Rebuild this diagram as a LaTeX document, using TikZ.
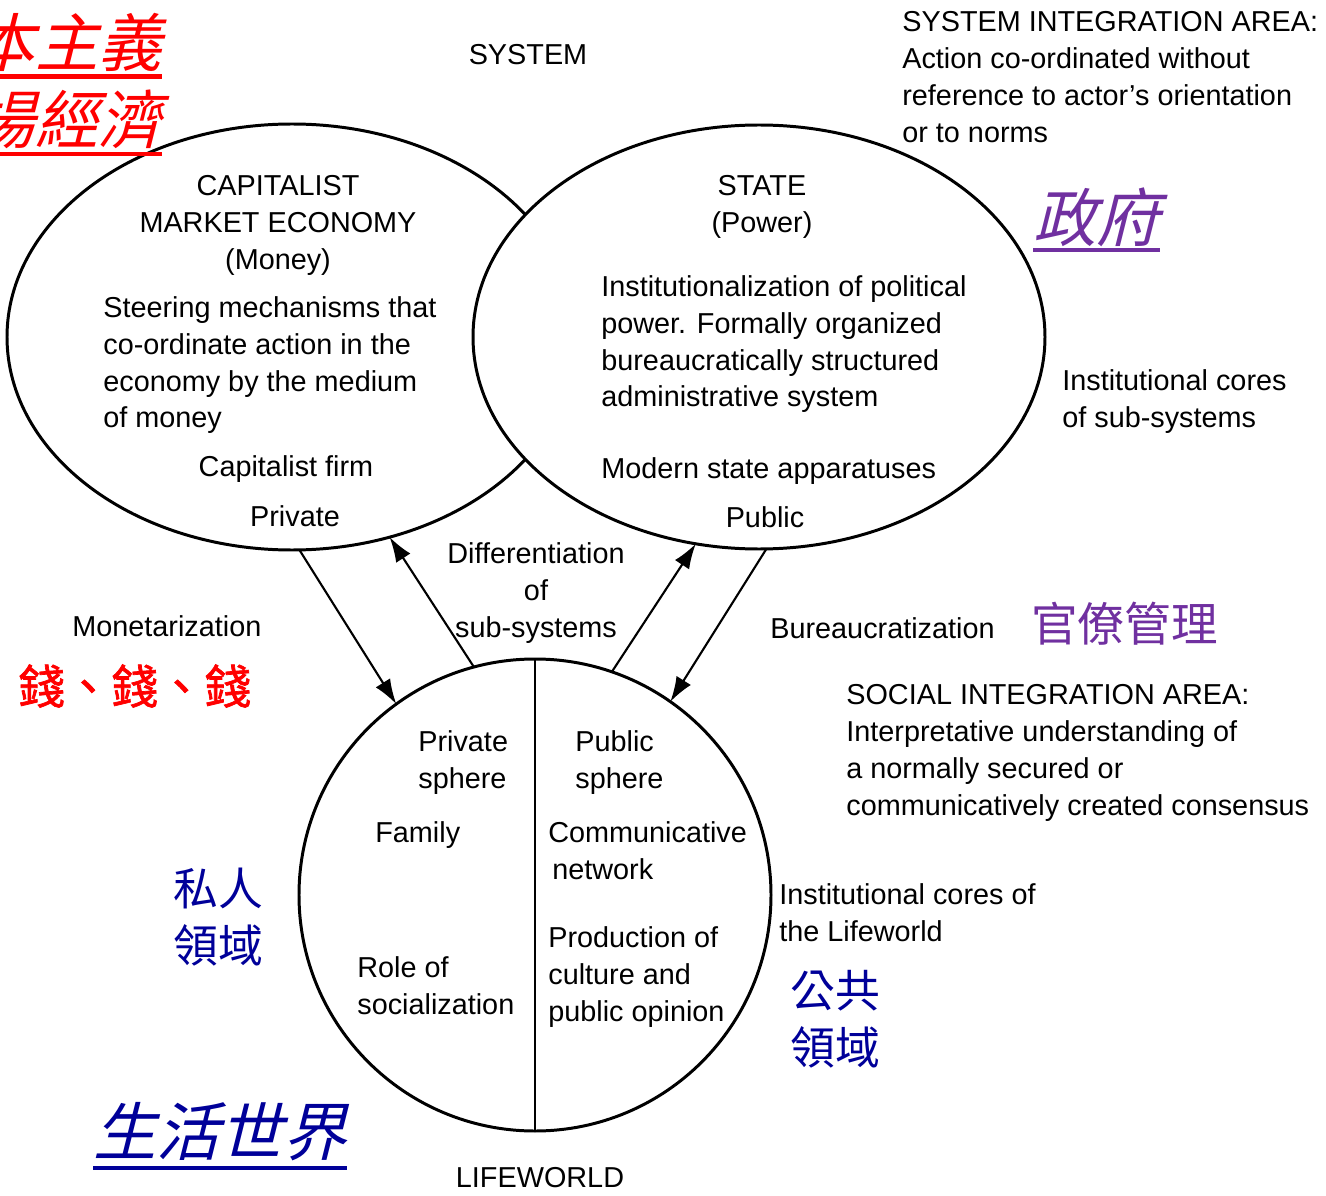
\documentclass[tikz,border=0pt]{standalone}
\usepackage{fontspec}
\setmainfont{Liberation Sans}
\newfontfamily\cjk{Noto Sans CJK TC}
\newfontfamily\cjkit[FakeSlant=0.25]{Noto Sans CJK TC}
\newfontfamily\cjkbf[FakeBold=1.5]{Noto Sans CJK TC}
\usepackage{xcolor}
\usepackage{tikz}
\usetikzlibrary{calc,arrows.meta,shapes.geometric}
\definecolor{redcn}{HTML}{FF0000}
\definecolor{purplecn}{HTML}{7030A0}
\definecolor{bluecn}{HTML}{000099}
\newcommand\pxu{0.02cm}
\tikzset{
  ring/.style={draw=black, line width=1.7pt, inner sep=0pt, outer sep=0pt},
  flow/.style={draw=black, line width=1.2pt, -{Latex[length=0.5cm,width=0.34cm]}},
  lab/.style={font=\fontsize{16.4}{21}\selectfont, inner sep=0pt, align=left, anchor=north west},
  labc/.style={lab, align=center, anchor=north},
  cn/.style={inner sep=0pt, anchor=west, align=left},
  cnbig/.style={cn, font=\cjkit\fontsize{36}{40}\selectfont},
  cnmid/.style={cn, font=\cjk\fontsize{25.5}{32.5}\selectfont},
  ul/.style={line width=2.3pt},
}
\begin{document}
\begin{tikzpicture}[x=0.02cm,y=-0.02cm]
  \useasboundingbox (0,0) rectangle (1326,1196);
  % the three spheres
  \node[ring, ellipse, minimum width=570*\pxu, minimum height=426*\pxu] (econ) at (292,337) {};
  \node[ring, ellipse, fill=white, minimum width=572*\pxu, minimum height=424*\pxu] (state) at (759,337) {};
  \node[ring, circle, minimum size=472*\pxu] (life) at (535,895) {};
  \draw[line width=1.3pt] (life.north) -- (life.south);

  \node[labc] (sys) at (528,44) {SYSTEM};
  \node[labc] (econt) at (278,175) {CAPITALIST\\MARKET ECONOMY\\(Money)};
  \node[lab] (steer) at (103,296) {Steering mechanisms that\\co-ordinate action in the\\economy by the medium\\of money};
  \node[labc] (firm) at (286,455) {Capitalist firm};
  \node[labc] (priv) at (295,505) {Private};
  \node[labc] (statet) at (762,175) {STATE\\(Power)};
  \node[lab] (inst) at (601,275) {Institutionalization of political\\power. Formally organized\\bureaucratically structured\\administrative system};
  \node[lab] (appar) at (601,457) {Modern state apparatuses};
  \node[labc] (pub) at (765,506) {Public};
  \node[lab] (cores) at (1062,369) {Institutional cores\\of sub-systems};
  \node[labc] (diff) at (536,542) {Differentiation\\of\\sub-systems};
  \node[lab] (monet) at (72,615) {Monetarization};
  \node[lab] (bur) at (770,617) {Bureaucratization};
  \node[lab] (sysint) at (902,11) {SYSTEM INTEGRATION AREA:\\Action co-ordinated without\\reference to actor's orientation\\or to norms};
  \node[lab] (socint) at (846,684) {SOCIAL INTEGRATION AREA:\\Interpretative understanding of\\a normally secured or\\communicatively created consensus};
  \node[lab] (privs) at (418,730) {Private\\sphere};
  \node[lab] (pubs) at (575,730) {Public\\sphere};
  \node[lab] (fam) at (375,821) {Family};
  \node[lab] (comm) at (548,821) {Communicative\\\hspace*{0.08cm}network};
  \node[lab] (role) at (357,956) {Role of\\socialization};
  \node[lab] (prod) at (548,926) {Production of\\culture and\\public opinion};
  \node[lab] (lwcores) at (779,883) {Institutional cores of\\the Lifeworld};
  \node[labc] (lwt) at (540,1167) {LIFEWORLD};

  \draw[flow] (econ.-88) -- (life.126);
  \draw[flow] (life.105) -- (econ.-64);
  \draw[flow] (life.71) -- (state.-107);
  \draw[flow] (state.-88) -- (life.55);

  % Chinese notes
  \node[cnbig, text=redcn, anchor=east] (capcn) at (162,42) {本主義};
  \node[cnbig, text=redcn, anchor=east] (mktcn) at (162,119) {場經濟};
  \node[cnbig, text=purplecn] (govcn) at (1033,217) {政府};
  \node[cnbig, text=bluecn] (lifecn) at (93,1132) {生活世界};
  \draw[ul, redcn] ($(capcn.south west)+(0,5)$) -- ($(capcn.south east)+(0,5)$);
  \draw[ul, redcn] ($(mktcn.south west)+(0,5)$) -- ($(mktcn.south east)+(0,5)$);
  \draw[ul, purplecn] ($(govcn.south west)+(0,3)$) -- ($(govcn.south east)+(0,3)$);
  \draw[ul, bluecn] ($(lifecn.south west)+(0,6)$) -- ($(lifecn.south east)+(0,6)$);
  \node[cn, text=purplecn, font=\cjk\fontsize{26.5}{30}\selectfont] (burocn) at (1031,624) {官僚管理};
  \node[cn, text=redcn, font=\cjkbf\fontsize{26.5}{30}\selectfont] (moneycn) at (18,686) {錢、錢、錢};
  \node[cnmid, text=bluecn] (privcn) at (173,917) {私人\\領域};
  \node[cnmid, text=bluecn] (pubcn) at (790,1019) {公共\\領域};
\end{tikzpicture}
\end{document}
